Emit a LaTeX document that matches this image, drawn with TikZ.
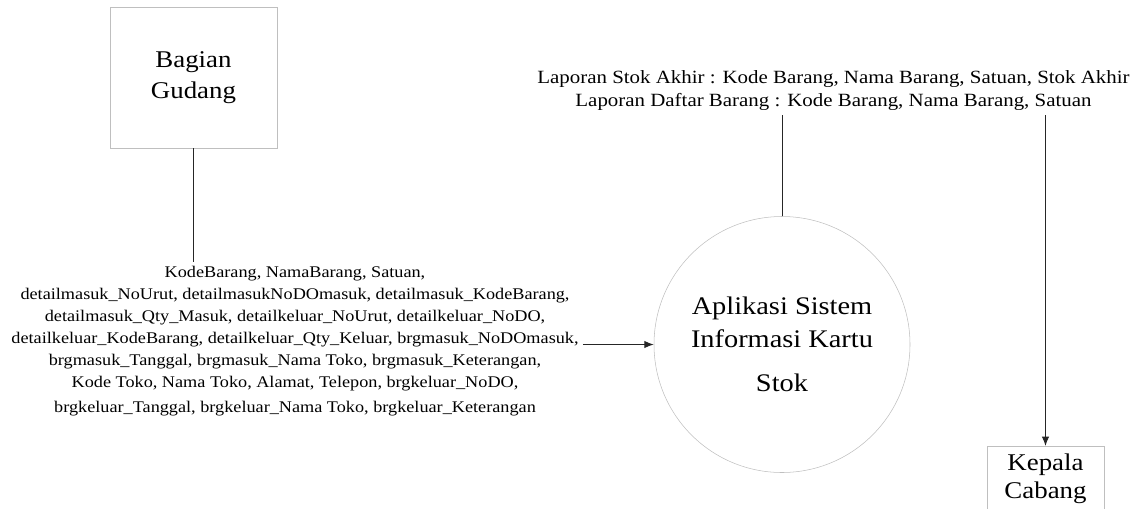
\documentclass[tikz,border=0pt]{standalone}
\usepackage{fontspec}
\setmainfont{Liberation Serif}[FakeStretch=1.12]
\usetikzlibrary{positioning,arrows.meta}

\begin{document}
\begin{tikzpicture}[x=0.75pt,y=-0.75pt,
    ent/.style={draw=black!25,rectangle,align=center,font=\fontsize{18}{23}\selectfont},
    proc/.style={draw=black!25,circle,minimum size=192pt,align=center,font=\fontsize{19}{25}\selectfont},
    lbl/.style={align=center,inner sep=3pt,font=\fontsize{12.2}{16.6}\selectfont},
    link/.style={black!85,line width=0.75pt},
    flow/.style={link,-{Latex[length=7pt,width=5.5pt]}}]
    \useasboundingbox (0,0) rectangle (1146,508);

    \node[ent,minimum width=125pt,minimum height=106pt] (gudang) at (193.5,77.5) {Bagian\\Gudang};
    \node[proc] (proses) at (782,344.5) {Aplikasi Sistem\\Informasi Kartu\\[8pt]Stok};
    \node[ent,anchor=north,minimum width=88pt,inner xsep=2pt,inner ysep=5.5pt,text depth=40pt,font=\fontsize{18}{21}\selectfont] (kepala) at (1045.5,446) {Kepala\\Cabang};

    \node[lbl] (dataIn) at (295,341) {KodeBarang, NamaBarang, Satuan,\\
      detailmasuk\_NoUrut, detailmasukNoDOmasuk, detailmasuk\_KodeBarang,\\
      detailmasuk\_Qty\_Masuk, detailkeluar\_NoUrut, detailkeluar\_NoDO,\\
      detailkeluar\_KodeBarang, detailkeluar\_Qty\_Keluar, brgmasuk\_NoDOmasuk,\\
      brgmasuk\_Tanggal, brgmasuk\_Nama Toko, brgmasuk\_Keterangan,\\
      Kode Toko, Nama Toko, Alamat, Telepon, brgkeluar\_NoDO,\\[2pt]
      brgkeluar\_Tanggal, brgkeluar\_Nama Toko, brgkeluar\_Keterangan};
    \node[lbl,font=\fontsize{14}{17.3}\selectfont] (laporan) at (833.5,91) {Laporan Stok Akhir : Kode Barang, Nama Barang, Satuan, Stok Akhir\\
      Laporan Daftar Barang : Kode Barang, Nama Barang, Satuan};

    \draw[link] (gudang.south) -- (gudang.south |- dataIn.north);
    \draw[flow] (dataIn.east |- proses.west) -- (proses.west);
    \draw[link] (proses.north) -- (proses.north |- laporan.south);
    \draw[flow] (laporan.south -| kepala.north) -- (kepala.north);
\end{tikzpicture}
\end{document}
